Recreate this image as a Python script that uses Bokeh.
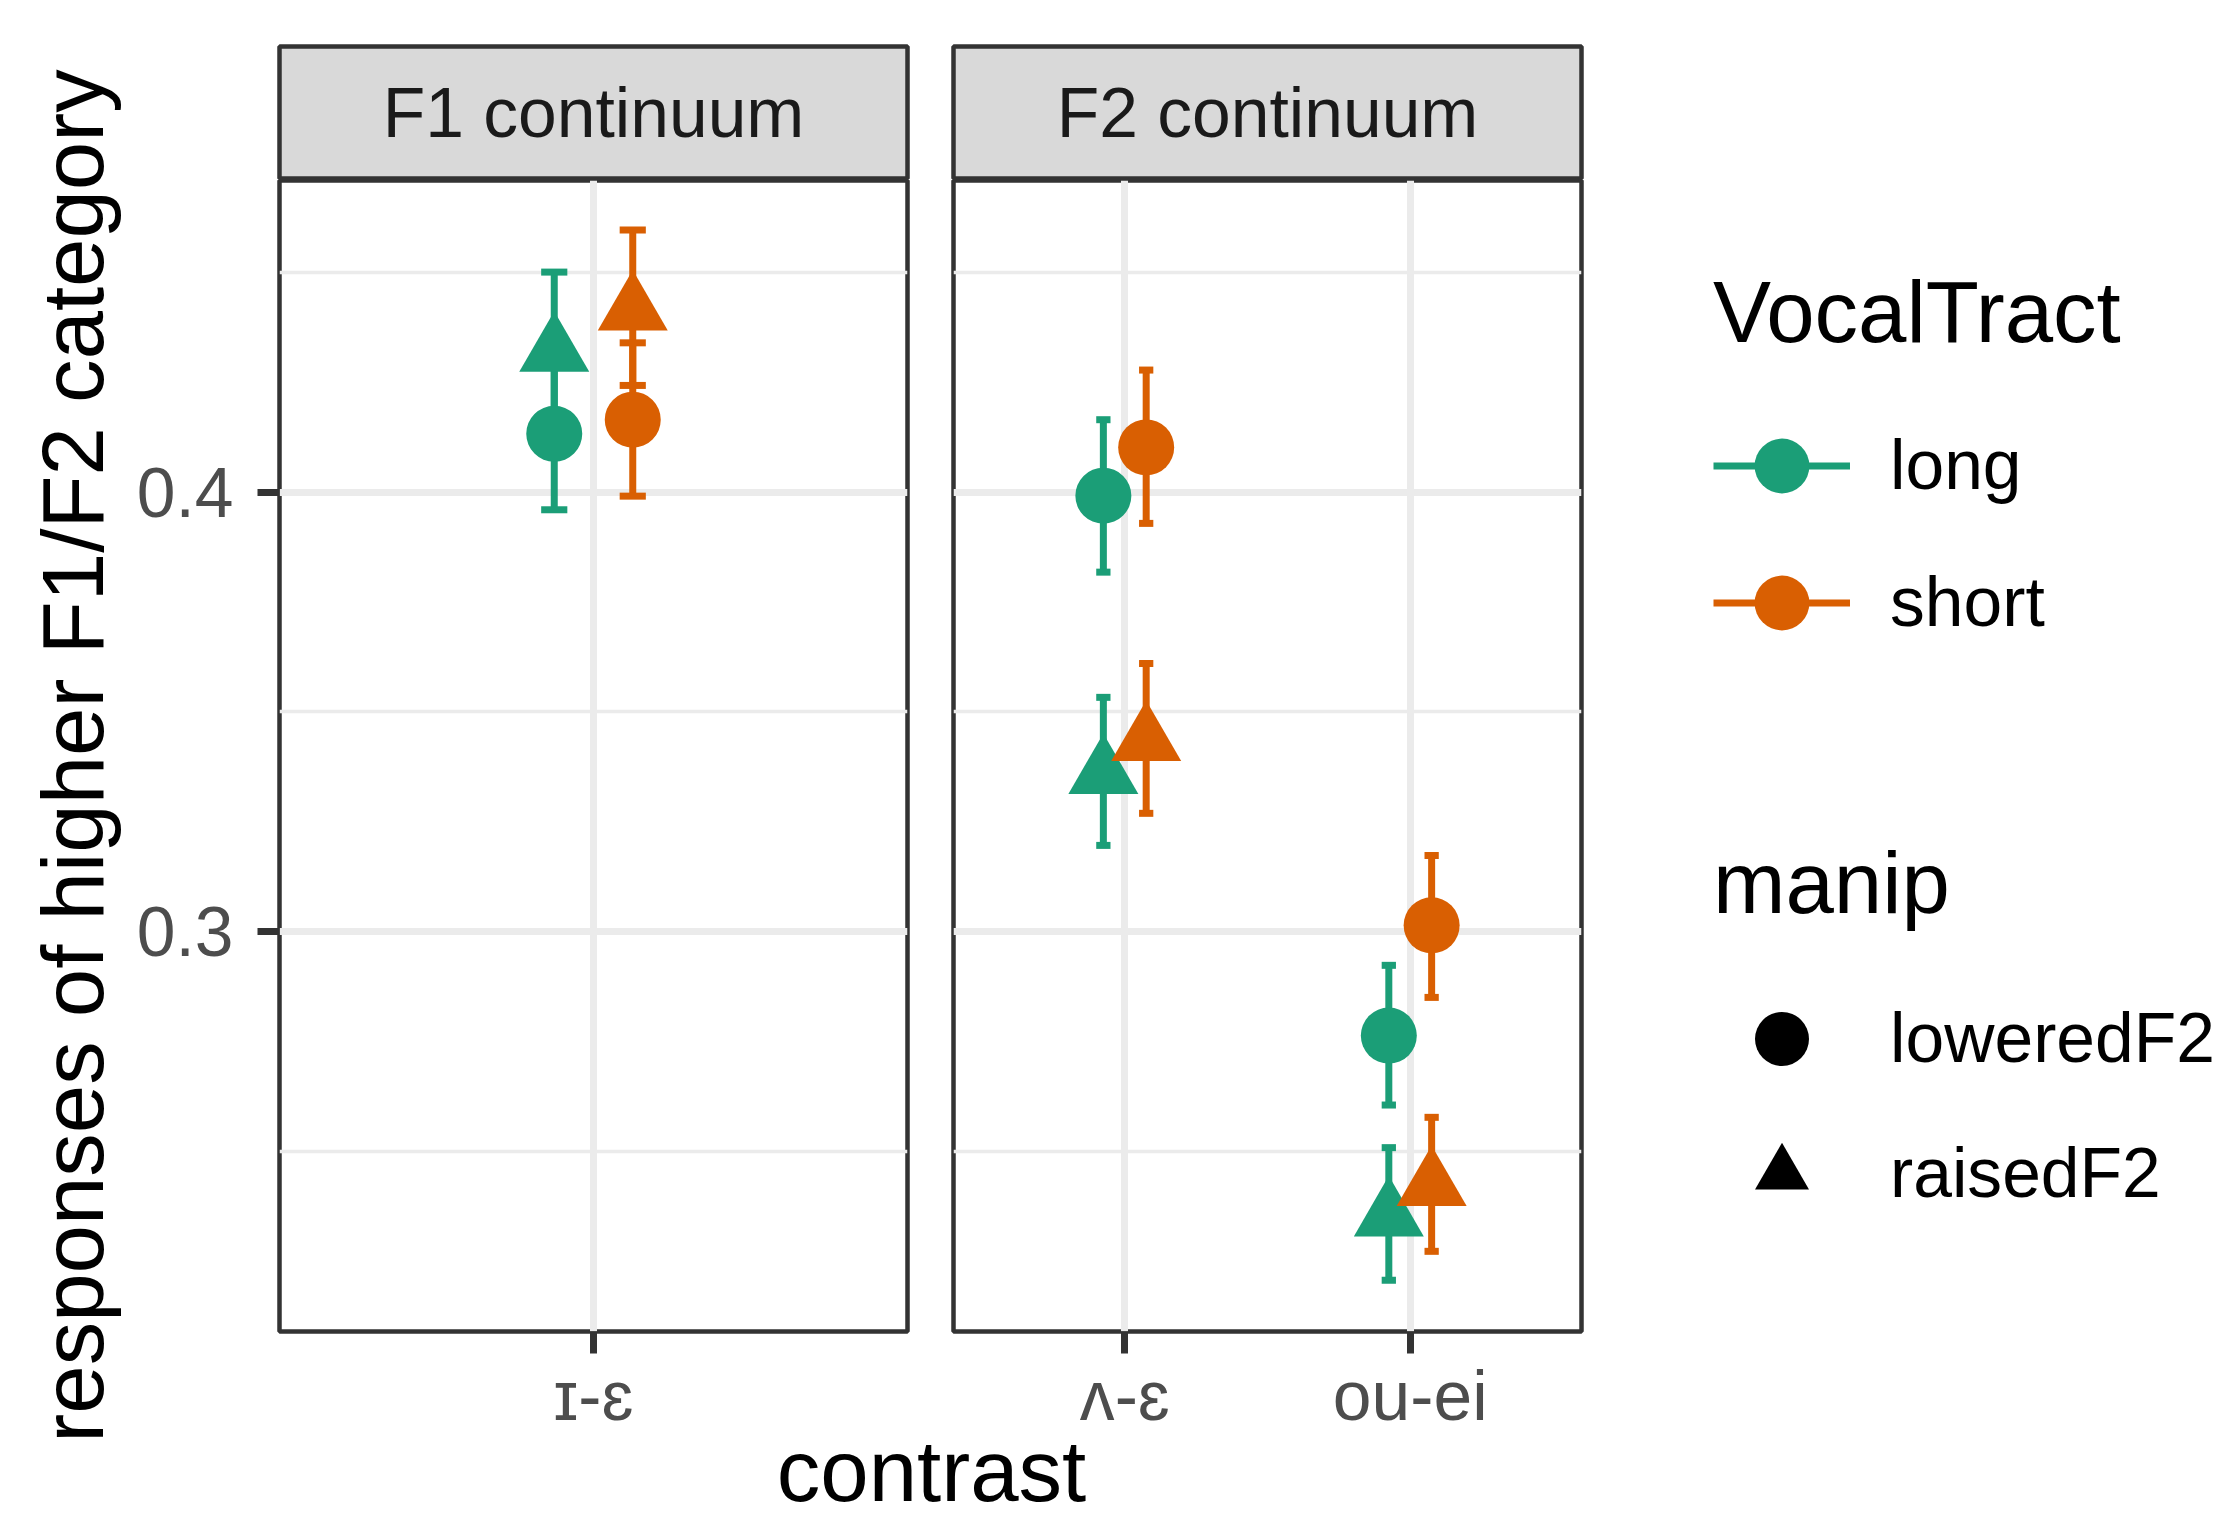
import math
from bokeh.plotting import figure
from bokeh.models import Range1d, FixedTicker, Legend, LegendItem
from bokeh.layouts import row, column
from bokeh.embed import file_html
from bokeh.resources import INLINE
from bokeh.core.properties import value

FONT = "Liberation Sans"

# ---------------- data ----------------
panels = ["F1 continuum", "F2 continuum"]
panel_contrasts = [["ɪ-ɛ"], ["ʌ-ɛ", "ou-ei"]]
vocal_tract = ["long", "short"]
manip = ["loweredF2", "raisedF2"]
y_ticks = [0.3, 0.4]
y_minor = [0.25, 0.35, 0.45]

row_panel = ["F1 continuum"] * 4 + ["F2 continuum"] * 8
row_contrast = ["ɪ-ɛ"] * 4 + ["ʌ-ɛ"] * 4 + ["ou-ei"] * 4
row_vt = ["long", "long", "short", "short"] * 3
row_manip = ["loweredF2", "raisedF2"] * 6
mean = [0.4133, 0.4320, 0.4165, 0.4414,
        0.3992, 0.3359, 0.4102, 0.3434,
        0.2763, 0.2352, 0.3014, 0.2421]
lower = [0.3960, 0.4140, 0.3991, 0.4243,
         0.3818, 0.3196, 0.3929, 0.3269,
         0.2605, 0.2206, 0.2850, 0.2272]
upper = [0.4307, 0.4501, 0.4340, 0.4597,
         0.4165, 0.3533, 0.4278, 0.3610,
         0.2923, 0.2508, 0.3173, 0.2577]

# ---------------- styles ----------------
vt_colors = {"long": "#1B9E77", "short": "#D95F02"}
manip_markers = {"loweredF2": "circle", "raisedF2": "triangle"}
manip_sizes = {"loweredF2": 56, "raisedF2": 70}
dodge = {"long": -0.075, "short": 0.075}
CAP_W = 0.05
Y_RANGE = (0.20895, 0.47095)
GRID = "#EBEBEB"
DARK = "#333333"

FRAME_W = 628
FRAME_H = 1151
STRIP_H = 180
PANEL_H = 1268
COL_H = PANEL_H + STRIP_H
YL_W = 130
LG_W = 635
XT_OVERLAP = 27
XT_H = 1521 - COL_H + XT_OVERLAP
borders = [(149, 23), (23, 10)]


def blank(fig):
    fig.grid.visible = False


def make_strip(i):
    bl, br = borders[i]
    s = figure(width=bl + FRAME_W + br, height=STRIP_H,
               x_range=Range1d(0, 1), y_range=Range1d(0, 1),
               min_border_left=bl, min_border_right=br,
               min_border_top=46, min_border_bottom=2,
               x_axis_location=None, y_axis_location=None,
               background_fill_color="#D9D9D9",
               outline_line_color=DARK, outline_line_width=4.5,
               output_backend="svg", toolbar_location=None)
    blank(s)
    s.text(x=[0.5], y=[0.5], text=[panels[i]], text_align="center",
           text_baseline="middle", text_font=value(FONT),
           text_font_size="69.6px", text_color="#1A1A1A")
    return s


def make_panel(i):
    name = panels[i]
    cats = panel_contrasts[i]
    bl, br = borders[i]
    f = figure(width=bl + FRAME_W + br, height=PANEL_H,
               x_range=Range1d(1 - 0.6, len(cats) + 0.6),
               y_range=Range1d(*Y_RANGE),
               min_border_left=bl, min_border_right=br,
               min_border_top=0, min_border_bottom=PANEL_H - FRAME_H,
               y_axis_location="left" if i == 0 else None,
               outline_line_color=DARK, outline_line_width=4.5,
               output_backend="svg", toolbar_location=None)

    xa = f.xaxis[0]
    xa.ticker = FixedTicker(ticks=list(range(1, len(cats) + 1)), minor_ticks=[])
    xa.major_label_overrides = {k + 1: c for k, c in enumerate(cats)}
    axes = [xa]
    if i == 0:
        ya = f.yaxis[0]
        ya.ticker = FixedTicker(ticks=y_ticks, minor_ticks=y_minor)
        axes.append(ya)
    for a in axes:
        a.axis_line_color = None
        a.major_tick_out = 22
        a.major_tick_in = 0
        a.minor_tick_out = 0
        a.minor_tick_in = 0
        a.major_tick_line_width = 7
        a.major_tick_line_color = DARK
        a.major_label_text_font = FONT
        a.major_label_text_font_size = "69.6px"
        a.major_label_text_color = "#4D4D4D"
    xa.major_label_standoff = 3
    if i == 0:
        f.yaxis[0].major_label_standoff = 24

    f.ygrid.ticker = FixedTicker(ticks=y_ticks, minor_ticks=y_minor)
    f.ygrid.grid_line_color = GRID
    f.ygrid.grid_line_width = 7
    f.ygrid.minor_grid_line_color = GRID
    f.ygrid.minor_grid_line_width = 3.5
    f.xgrid.grid_line_color = GRID
    f.xgrid.grid_line_width = 7

    idx = [k for k in range(len(mean)) if row_panel[k] == name]
    for vt in vocal_tract:
        rows = [k for k in idx if row_vt[k] == vt]
        xs = [cats.index(row_contrast[k]) + 1 + dodge[vt] for k in rows]
        lo = [lower[k] for k in rows]
        hi = [upper[k] for k in rows]
        col = vt_colors[vt]
        f.segment(x0=xs, y0=lo, x1=xs, y1=hi, line_color=col, line_width=7)
        cx0 = [x - CAP_W / 2 for x in xs]
        cx1 = [x + CAP_W / 2 for x in xs]
        f.segment(x0=cx0 + cx0, y0=lo + hi, x1=cx1 + cx1, y1=lo + hi,
                  line_color=col, line_width=7)
    for vt in vocal_tract:
        for m in manip:
            rows = [k for k in idx if row_vt[k] == vt and row_manip[k] == m]
            xs = [cats.index(row_contrast[k]) + 1 + dodge[vt] for k in rows]
            ys = [mean[k] for k in rows]
            f.scatter(x=xs, y=ys, marker=manip_markers[m], size=manip_sizes[m],
                      fill_color=vt_colors[vt], line_color=None)
    return f


strips = [make_strip(i) for i in range(2)]
panel_figs = [make_panel(i) for i in range(2)]

# y axis title
yl = figure(width=YL_W, height=COL_H, x_range=Range1d(0, YL_W), y_range=Range1d(0, COL_H),
            min_border_left=0, min_border_right=0, min_border_top=0, min_border_bottom=0,
            x_axis_location=None, y_axis_location=None, outline_line_color=None,
            output_backend="svg", toolbar_location=None)
blank(yl)
yl.text(x=[72], y=[COL_H - STRIP_H - FRAME_H / 2], text=["responses of higher F1/F2 category"],
        angle=math.pi / 2, text_align="center", text_baseline="middle",
        text_font=value(FONT), text_font_size="87px", text_color="black")

# legends (renderers carry the real data but are hidden; only their legend keys show)
lg = figure(width=LG_W, height=COL_H, x_range=Range1d(0, 1), y_range=Range1d(0, 1),
            min_border_left=0, min_border_right=0, min_border_top=0, min_border_bottom=0,
            x_axis_location=None, y_axis_location=None, outline_line_color=None,
            output_backend="svg", toolbar_location=None)
blank(lg)

vt_items = []
for vt in vocal_tract:
    rows = [k for k in range(len(mean)) if row_vt[k] == vt]
    seg = lg.segment(x0=rows, y0=[lower[k] for k in rows], x1=rows,
                     y1=[upper[k] for k in rows], line_color=vt_colors[vt], line_width=7)
    pt = lg.scatter(x=rows, y=[mean[k] for k in rows], marker="circle",
                    fill_color=vt_colors[vt], line_color=None)
    seg.visible = False
    pt.visible = False
    vt_items.append(LegendItem(label=vt, renderers=[seg, pt]))
m_items = []
for m in manip:
    rows = [k for k in range(len(mean)) if row_manip[k] == m]
    pt = lg.scatter(x=rows, y=[mean[k] for k in rows], marker=manip_markers[m],
                    fill_color="black", line_color=None)
    pt.visible = False
    m_items.append(LegendItem(label=m, renderers=[pt]))


def style_legend(leg, standoff, gh):
    leg.title_text_font = FONT
    leg.title_text_font_size = "87px"
    leg.title_text_font_style = "normal"
    leg.title_text_color = "black"
    leg.title_standoff = standoff
    leg.label_text_font = FONT
    leg.label_text_font_size = "69.6px"
    leg.label_text_color = "black"
    leg.label_standoff = 40
    leg.glyph_width = 137
    leg.glyph_height = gh
    leg.label_height = gh
    leg.spacing = 0
    leg.padding = 0
    leg.margin = 0
    leg.border_line_color = None
    leg.background_fill_alpha = 0
    leg.click_policy = "none"


leg1 = Legend(items=vt_items, title="VocalTract", location=(122, COL_H - 670.5))
style_legend(leg1, 35, 137)
leg2 = Legend(items=m_items, title="manip", location=(122, COL_H - 1240.5))
style_legend(leg2, 38, 135)
lg.add_layout(leg1)
lg.add_layout(leg2)

# x axis title: transparent strip that slightly overlaps the blank area under the tick labels
TOTAL_W = YL_W + sum(b[0] + FRAME_W + b[1] for b in borders) + LG_W
xt = figure(width=TOTAL_W, height=XT_H, x_range=Range1d(0, TOTAL_W), y_range=Range1d(0, XT_H),
            min_border_left=0, min_border_right=0, min_border_top=0, min_border_bottom=0,
            x_axis_location=None, y_axis_location=None, outline_line_color=None,
            border_fill_alpha=0, background_fill_alpha=0,
            margin=(-XT_OVERLAP, 0, 0, 0),
            output_backend="svg", toolbar_location=None)
blank(xt)
xt.text(x=[931], y=[XT_H / 2 + 1], text=["contrast"], text_align="center", text_baseline="middle",
        text_font=value(FONT), text_font_size="87px", text_color="black")

layout = column(
    row(yl, column(strips[0], panel_figs[0]), column(strips[1], panel_figs[1]), lg),
    xt,
)

open("out.html", "w").write(file_html(layout, INLINE))
